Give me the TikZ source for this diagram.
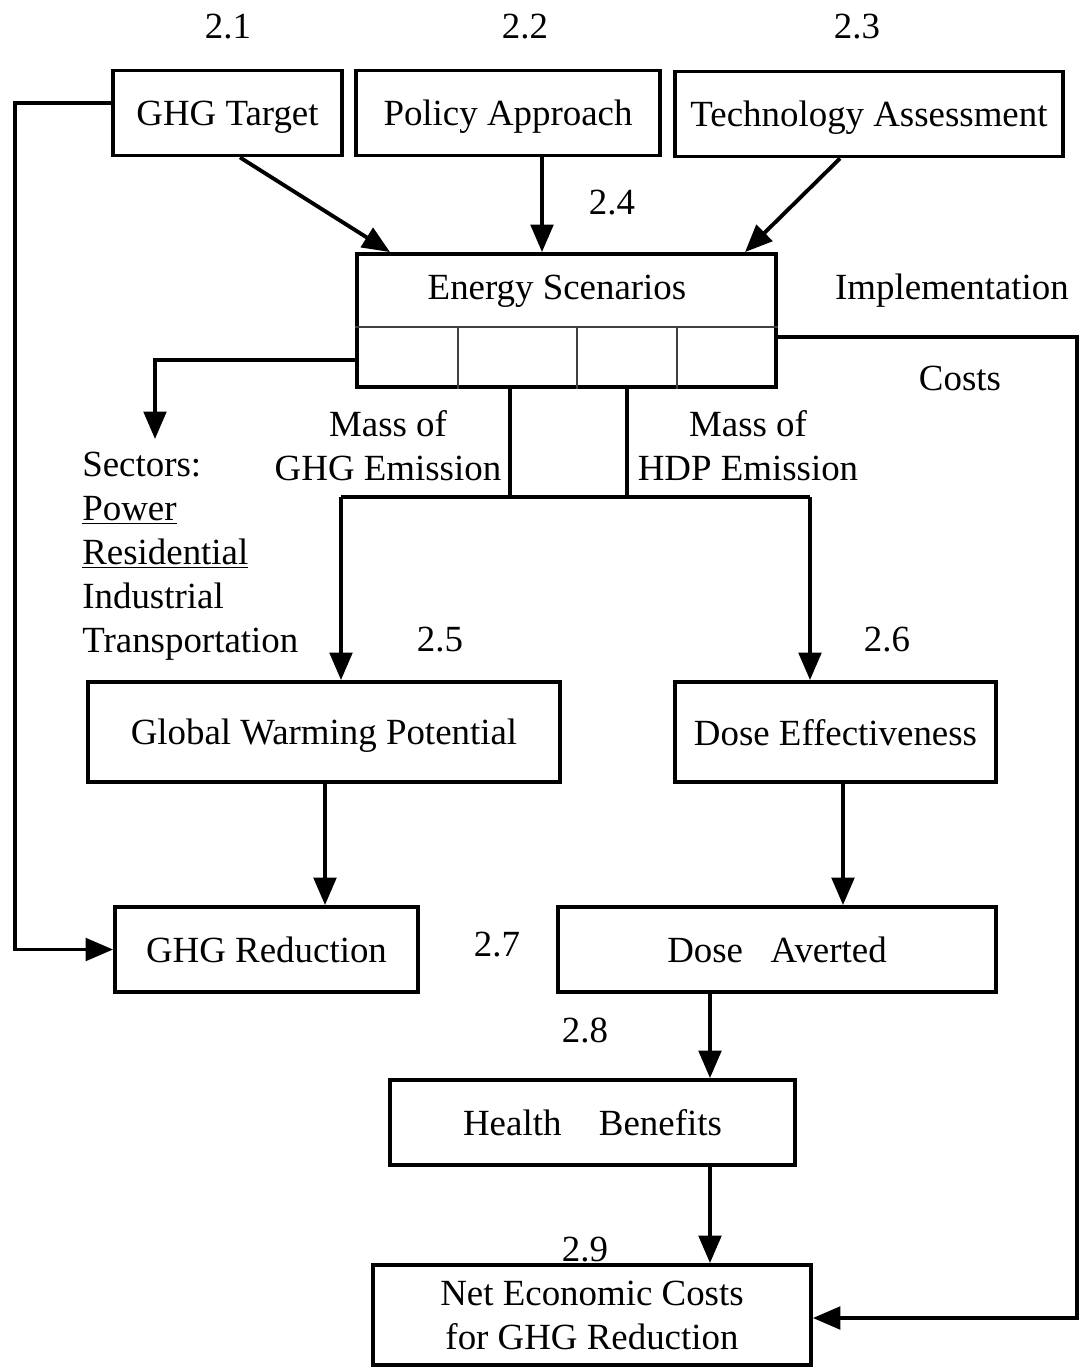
\documentclass[tikz,border=0pt]{standalone}
\usepackage{fontspec}
\setmainfont{Liberation Serif}
\usetikzlibrary{arrows.meta}

\begin{document}
\begin{tikzpicture}[x=0.02cm, y=-0.02cm,
    font=\fontsize{21}{25}\selectfont,
    box/.style={draw, line width=2.2pt, inner sep=0pt, text depth=0pt},
    plain/.style={inner sep=0pt},
    wire/.style={line width=2.2pt},
    arr/.style={line width=2.2pt, -{Triangle[length=0.55cm, width=0.45cm]}},
    divider/.style={line width=1pt, color=black!75}]
  \useasboundingbox (0,0) rectangle (1079,1367);
  %% top row
  \node[box, minimum width=4.58cm, minimum height=1.7cm] (target) at (227.5,113) {GHG Target};
  \node[box, minimum width=6.08cm, minimum height=1.7cm] (policy) at (508,113) {Policy Approach};
  \node[box, minimum width=7.76cm, minimum height=1.7cm] (tech) at (869,114) {Technology Assessment};
  \node[plain] (l21) at (228,27) {2.1};
  \node[plain] (l22) at (525,27) {2.2};
  \node[plain] (l23) at (857,27) {2.3};
  %% scenarios
  \node[box, minimum width=8.38cm, minimum height=2.66cm] (energy) at (566.5,320.5) {};
  \node[plain] (esname) at (557,291) {Energy Scenarios};
  \draw[divider] (energy.west |- 0,327) -- (energy.east |- 0,327);
  \foreach \x in {458,577,677} {
    \draw[divider] (\x,327) -- (energy.south -| \x,0);
  }
  \node[plain] (l24) at (612,203) {2.4};
  \node[plain] (impl) at (952,291) {Implementation};
  \node[plain] (costs) at (960,378) {Costs};
  \draw[arr] (target.south -| 240,0) -- (energy.north -| 390,0);
  \draw[arr] (policy.south -| 542,0) -- (energy.north -| 542,0);
  \draw[arr] (tech.south -| 840,0) -- (energy.north -| 745,0);
  %% sectors and emissions
  \node[plain, anchor=north west, align=left] (sectors) at (82,452)
    {Sectors:\\\underline{Power}\\\underline{Residential}\\Industrial\\Transportation};
  \draw[arr, shorten >=0.26cm] (energy.west |- 0,360) -| (sectors.north -| 155,0);
  \node[plain, align=center] (ghgmass) at (388,446) {Mass of\\GHG Emission};
  \node[plain, align=center] (hdpmass) at (748,446) {Mass of\\HDP Emission};
  \coordinate (jg) at (510,497);
  \coordinate (jh) at (627,497);
  \coordinate (jl) at (341,497);
  \coordinate (jr) at (810,497);
  \draw[wire] (energy.south -| jg) -- (jg);
  \draw[wire] (energy.south -| jh) -- (jh);
  \draw[wire] (jl) -- (jr);
  %% effects
  \node[box, minimum width=9.44cm, minimum height=2cm] (gwp) at (324,732) {Global Warming Potential};
  \node[box, minimum width=6.42cm, minimum height=2cm] (doseeff) at (835.5,732) {Dose Effectiveness};
  \node[plain] (l25) at (440,640) {2.5};
  \node[plain] (l26) at (887,640) {2.6};
  \draw[arr] (jl) -- (gwp.north -| jl);
  \draw[arr] (jr) -- (doseeff.north -| jr);
  \node[box, minimum width=6.06cm, minimum height=1.7cm] (reduction) at (266.5,949.5) {GHG Reduction};
  \node[box, minimum width=8.76cm, minimum height=1.7cm] (averted) at (777,949.5) {Dose\hspace{0.55cm}Averted};
  \node[plain] (l27) at (497,945) {2.7};
  \draw[arr] (gwp.south -| 325,0) -- (reduction.north -| 325,0);
  \draw[arr] (doseeff.south -| 843,0) -- (averted.north -| 843,0);
  %% benefits and costs
  \node[box, minimum width=8.1cm, minimum height=1.7cm] (health) at (592.5,1122.5) {Health\hspace{0.75cm}Benefits};
  \node[plain] (l28) at (585,1030) {2.8};
  \draw[arr] (averted.south -| 710,0) -- (health.north -| 710,0);
  \node[box, minimum width=8.76cm, minimum height=2cm, align=center] (net) at (592,1315)
    {Net Economic Costs\\for GHG Reduction};
  \node[plain] (l29) at (585,1250) {2.9};
  \draw[arr] (health.south -| 710,0) -- (net.north -| 710,0);
  %% feedback lines
  \draw[arr] (target.west |- 0,103) -- (15,103) |- (reduction.west);
  \draw[arr] (energy.east |- 0,337) -- (1077,337) |- (net.east |- 0,1318);
\end{tikzpicture}
\end{document}
